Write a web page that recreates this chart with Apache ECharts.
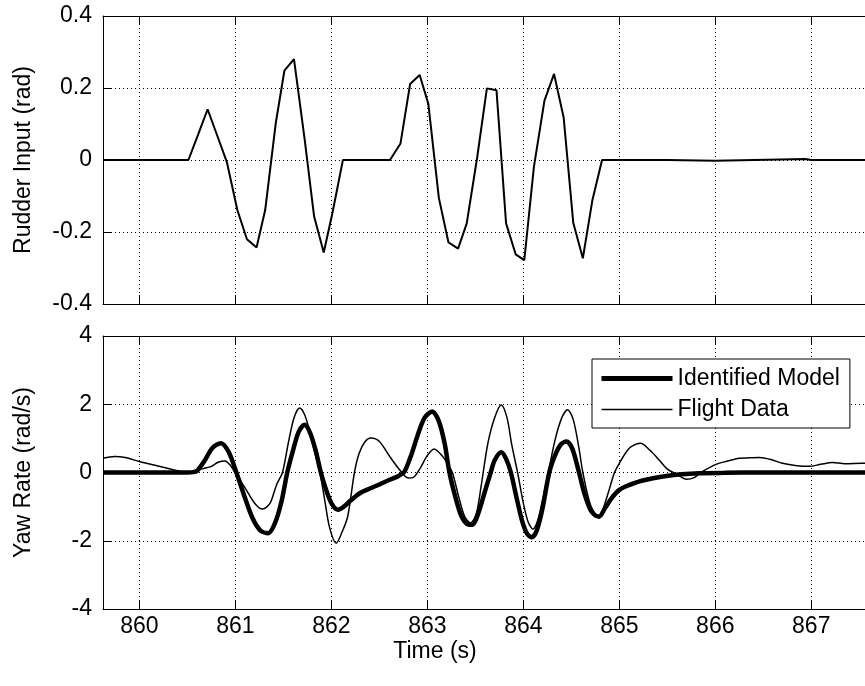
<!DOCTYPE html>
<html><head><meta charset="utf-8">
<script src="https://cdn.jsdelivr.net/npm/echarts@6/dist/echarts.min.js"></script>
<style>html,body{margin:0;padding:0;background:#fff}#c{width:865px;height:686px}</style>
</head><body><div id="c"></div>
<script>
// ---- data ----
const xTicks = [860, 861, 862, 863, 864, 865, 866, 867];

const rudderTime  = [859.62, 860.0, 860.51, 860.61, 860.71, 860.81, 860.91, 861.02, 861.12, 861.22, 861.31, 861.42, 861.51, 861.61, 861.72, 861.82, 861.92, 862.01, 862.12, 862.3, 862.61, 862.72, 862.82, 862.92, 863.01, 863.12, 863.22, 863.32, 863.41, 863.52, 863.62, 863.72, 863.82, 863.92, 864.01, 864.11, 864.22, 864.32, 864.42, 864.52, 864.62, 864.72, 864.82, 865.5, 866.0, 866.94, 867.0, 867.56];
const rudderInput = [0, 0, 0, 0.07, 0.141, 0.068, -0.005, -0.139, -0.22, -0.243, -0.139, 0.102, 0.248, 0.28, 0.06, -0.157, -0.257, -0.148, 0, 0, 0, 0.046, 0.211, 0.236, 0.156, -0.106, -0.229, -0.246, -0.176, 0.009, 0.199, 0.194, -0.176, -0.262, -0.278, -0.019, 0.165, 0.239, 0.118, -0.174, -0.273, -0.111, 0, 0, -0.002, 0.003, 0, 0];

const modelTime = [859.62, 860.5, 860.56, 860.6, 860.68, 860.76, 860.85, 860.93, 861.01, 861.1, 861.18, 861.26, 861.34, 861.41, 861.48, 861.54, 861.6, 861.66, 861.72, 861.78, 861.84, 861.89, 861.95, 862.01, 862.07, 862.13, 862.2, 862.3, 862.4, 862.5, 862.6, 862.7, 862.76, 862.83, 862.9, 862.97, 863.05, 863.12, 863.18, 863.23, 863.29, 863.35, 863.41, 863.47, 863.53, 863.6, 863.66, 863.7, 863.77, 863.82, 863.87, 863.93, 863.99, 864.04, 864.09, 864.14, 864.2, 864.27, 864.33, 864.39, 864.45, 864.51, 864.58, 864.64, 864.7, 864.75, 864.79, 864.85, 864.92, 865.0, 865.1, 865.21, 865.35, 865.49, 865.65, 865.83, 866.1, 866.5, 867.56];
const modelYaw  = [0, 0, 0.01, 0.05, 0.35, 0.72, 0.86, 0.6, 0, -0.75, -1.35, -1.7, -1.78, -1.5, -0.85, 0, 0.65, 1.2, 1.4, 1.15, 0.6, 0, -0.55, -0.95, -1.09, -1.0, -0.82, -0.6, -0.47, -0.35, -0.22, -0.1, 0.02, 0.5, 1.1, 1.6, 1.79, 1.5, 0.85, 0, -0.7, -1.25, -1.5, -1.53, -1.2, -0.55, 0, 0.35, 0.59, 0.4, 0, -0.75, -1.45, -1.8, -1.9, -1.7, -1.05, 0, 0.5, 0.82, 0.91, 0.7, 0, -0.65, -1.1, -1.26, -1.29, -1.05, -0.75, -0.51, -0.37, -0.26, -0.17, -0.1, -0.05, -0.02, -0.01, 0, 0];

const flightTime = [859.62, 859.74, 859.85, 860.0, 860.15, 860.28, 860.4, 860.49, 860.56, 860.62, 860.7, 860.75, 860.82, 860.89, 860.95, 861.0, 861.1, 861.2, 861.28, 861.33, 861.37, 861.43, 861.49, 861.55, 861.61, 861.67, 861.72, 861.78, 861.83, 861.88, 861.93, 861.98, 862.05, 862.11, 862.17, 862.24, 862.29, 862.35, 862.41, 862.5, 862.6, 862.71, 862.8, 862.85, 862.92, 863.0, 863.07, 863.16, 863.2, 863.26, 863.33, 863.39, 863.45, 863.51, 863.56, 863.63, 863.7, 863.77, 863.83, 863.88, 863.94, 864.0, 864.05, 864.1, 864.15, 864.2, 864.26, 864.33, 864.4, 864.46, 864.52, 864.58, 864.62, 864.7, 864.79, 864.85, 864.9, 864.95, 865.0, 865.06, 865.12, 865.22, 865.32, 865.42, 865.5, 865.6, 865.7, 865.78, 865.85, 866.0, 866.12, 866.25, 866.35, 866.46, 866.58, 866.7, 866.85, 866.98, 867.1, 867.22, 867.35, 867.53, 867.56];
const flightYaw  = [0.42, 0.47, 0.44, 0.32, 0.22, 0.13, 0.05, 0.0, 0.03, 0.08, 0.14, 0.18, 0.3, 0.34, 0.2, -0.02, -0.45, -0.9, -1.07, -1.0, -0.85, -0.35, 0, 0.85, 1.6, 1.89, 1.7, 1.15, 0.55, 0, -0.8, -1.6, -2.07, -1.75, -1.29, 0, 0.57, 0.9, 1.01, 0.91, 0.5, 0.08, -0.16, -0.15, 0.1, 0.5, 0.69, 0.47, 0.3, 0, -0.75, -1.3, -1.48, -1.2, -0.4, 0.85, 1.6, 1.98, 1.6, 0.8, 0, -0.9, -1.45, -1.66, -1.4, -0.8, 0, 0.95, 1.6, 1.84, 1.55, 0.7, 0, -0.95, -1.34, -0.9, -0.45, 0, 0.27, 0.55, 0.75, 0.86, 0.65, 0.35, 0.1, -0.05, -0.2, -0.15, 0.0, 0.23, 0.33, 0.42, 0.43, 0.44, 0.38, 0.27, 0.2, 0.18, 0.24, 0.29, 0.26, 0.27, 0.27];

const rudderTicks = [-0.4, 0.4, 0.2];  // min, max, step
const yawTicks = [-4, 4, 2];
const seriesNames = ['Identified Model', 'Flight Data'];

// ---- chart ----
const FONT = "'Liberation Sans', Arial, sans-serif";
const FS = 23;
const X_MIN = 859.62, X_MAX = 867.56;
const zip = (a, b) => a.map((t, i) => [t, b[i]]);
const dotted = { color: '#000', width: 1, type: [1, 3] };
const hiddenSymbol = { color: 'rgba(0,0,0,0)', borderWidth: 0, borderColor: 'rgba(0,0,0,0)', opacity: 0 };

function xAx(gridIndex, position, labels) {
  return {
    type: 'value', gridIndex, position, min: X_MIN, max: X_MAX,
    axisLine: { show: true, onZero: false, lineStyle: { color: '#000', width: 1 } },
    axisTick: { show: true, inside: true, length: 9, customValues: xTicks, lineStyle: { color: '#000' } },
    axisLabel: { show: labels, customValues: xTicks, margin: 6, color: '#000', fontSize: FS, fontFamily: FONT },
    splitLine: { show: position === 'bottom', lineStyle: dotted }
  };
}
function yAx(gridIndex, ticks, name) {
  return {
    type: 'value', gridIndex, min: ticks[0], max: ticks[1], interval: ticks[2],
    axisLine: { show: true, onZero: false, lineStyle: { color: '#000', width: 1 } },
    axisTick: { show: true, inside: true, length: 8, lineStyle: { color: '#000' } },
    axisLabel: { margin: 11, color: '#000', fontSize: FS, fontFamily: FONT },
    splitLine: { show: true, lineStyle: dotted },
    name, nameLocation: 'middle', nameGap: 68,
    nameTextStyle: { color: '#000', fontSize: FS, fontFamily: FONT }
  };
}

const chart = echarts.init(document.getElementById('c'), null, { renderer: 'canvas' });
chart.setOption({
  animation: false,
  backgroundColor: '#fff',
  grid: [
    { left: 103, top: 16, right: 0, height: 288 },
    { left: 103, top: 336, right: 0, height: 273 }
  ],
  xAxis: [xAx(0, 'bottom', false), xAx(0, 'top', false), xAx(1, 'bottom', true), xAx(1, 'top', false)],
  yAxis: [yAx(0, rudderTicks, 'Rudder Input (rad)'), yAx(1, yawTicks, 'Yaw Rate (rad/s)')],
  legend: {
    left: 592, top: 359, orient: 'vertical',
    backgroundColor: '#fff', borderColor: '#000', borderWidth: 1,
    padding: [8, 10, 7, 7], itemGap: 8, itemWidth: 71, itemHeight: 14,
    textStyle: { color: '#000', fontSize: FS, fontFamily: FONT },
    data: [
      { name: seriesNames[0], lineStyle: { width: 5, color: '#000' }, itemStyle: hiddenSymbol },
      { name: seriesNames[1], lineStyle: { width: 1.5, color: '#000' }, itemStyle: hiddenSymbol }
    ]
  },
  graphic: [{
    type: 'text', x: 435, y: 652,
    style: { text: 'Time (s)', font: FS + 'px ' + FONT, fill: '#000', textAlign: 'center', textVerticalAlign: 'middle' }
  }],
  series: [
    { type: 'line', xAxisIndex: 0, yAxisIndex: 0, data: zip(rudderTime, rudderInput), symbol: 'none',
      lineStyle: { color: '#000', width: 2 }, itemStyle: { color: '#000' } },
    { name: seriesNames[0], type: 'line', xAxisIndex: 2, yAxisIndex: 1, data: zip(modelTime, modelYaw), symbol: 'none', smooth: 0.3,
      lineStyle: { color: '#000', width: 4.5 }, itemStyle: { color: '#000' } },
    { name: seriesNames[1], type: 'line', xAxisIndex: 2, yAxisIndex: 1, data: zip(flightTime, flightYaw), symbol: 'none', smooth: 0.3,
      lineStyle: { color: '#000', width: 1.5 }, itemStyle: { color: '#000' } }
  ]
});
</script></body></html>
